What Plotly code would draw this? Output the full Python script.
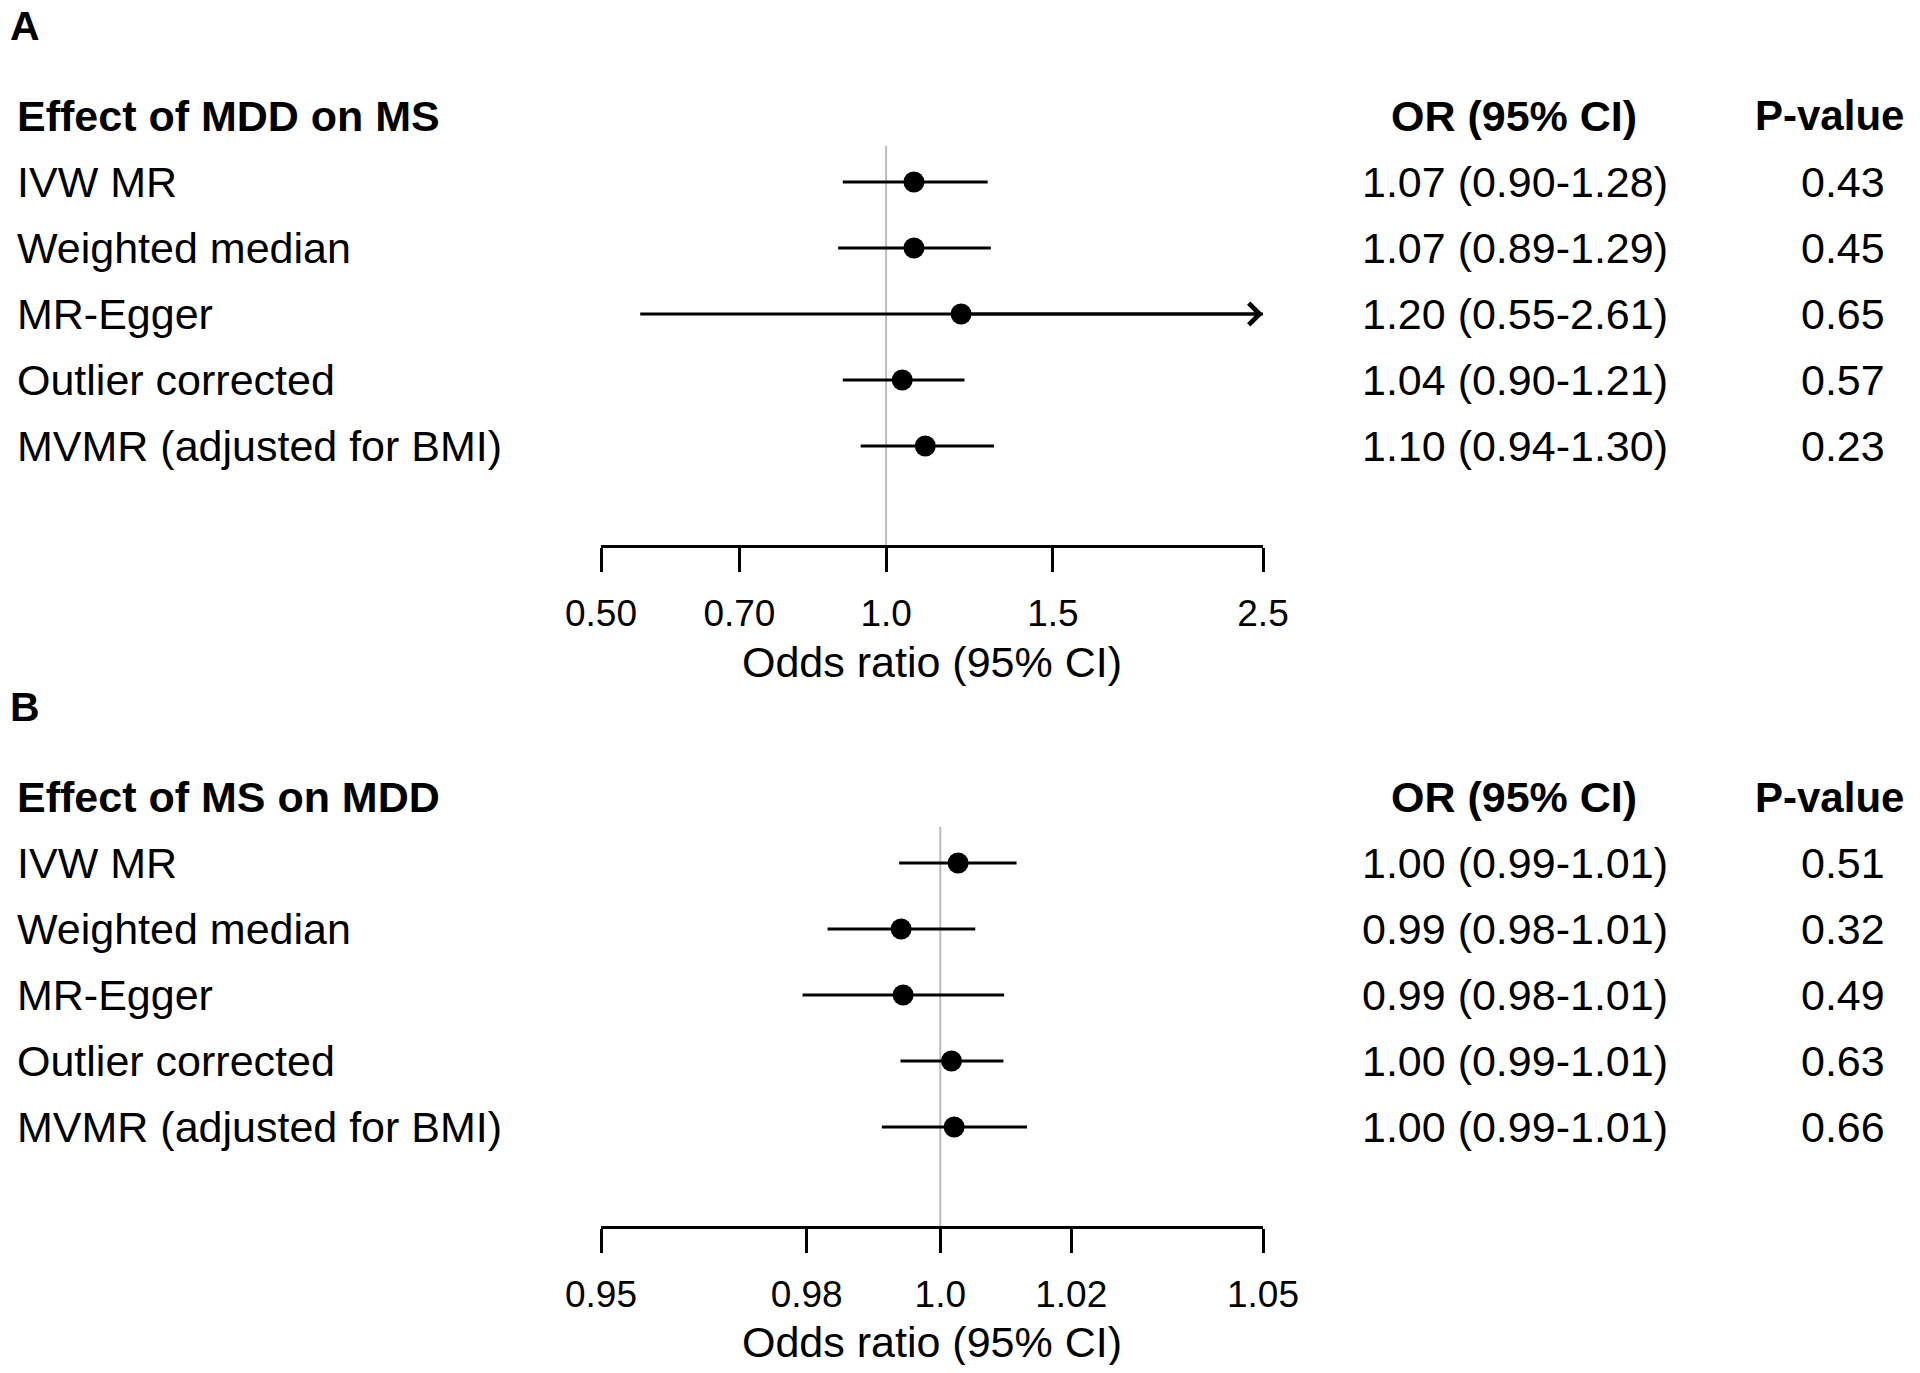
"""Forest plots: MR estimates for MDD -> MS and MS -> MDD"""

import math

import plotly.graph_objects as go

# page body has an 8px margin on every side, so the figure is drawn smaller
# and every position below is given in window pixels minus that offset
OFF = 8
W, H = 1920 - OFF, 1373 - 2 * OFF
FONT = "Liberation Sans, Arial, Helvetica, sans-serif"

METHODS = ["IVW MR", "Weighted median", "MR-Egger", "Outlier corrected", "MVMR (adjusted for BMI)"]

# Panel A: effect of MDD on MS
A_OR = [1.07, 1.07, 1.20, 1.04, 1.10]
A_LO = [0.90, 0.89, 0.55, 0.90, 0.94]
A_HI = [1.28, 1.29, 2.61, 1.21, 1.30]
A_TEXT = ["1.07 (0.90-1.28)", "1.07 (0.89-1.29)", "1.20 (0.55-2.61)", "1.04 (0.90-1.21)", "1.10 (0.94-1.30)"]
A_P = ["0.43", "0.45", "0.65", "0.57", "0.23"]
A_TICKS = [0.50, 0.70, 1.0, 1.5, 2.5]
A_TICKTEXT = ["0.50", "0.70", "1.0", "1.5", "2.5"]

# Panel B: effect of MS on MDD
B_OR = [1.0027, 0.9941, 0.9944, 1.0017, 1.0021]
B_LO = [0.9938, 0.9831, 0.9794, 0.9940, 0.9912]
B_HI = [1.0116, 1.0053, 1.0097, 1.0096, 1.0132]
B_TEXT = ["1.00 (0.99-1.01)", "0.99 (0.98-1.01)", "0.99 (0.98-1.01)", "1.00 (0.99-1.01)", "1.00 (0.99-1.01)"]
B_P = ["0.51", "0.32", "0.49", "0.63", "0.66"]
B_TICKS = [0.95, 0.98, 1.0, 1.02, 1.05]
B_TICKTEXT = ["0.95", "0.98", "1.0", "1.02", "1.05"]

ROWS = [1, 2, 3, 4, 5]


def px(x):
    return (x - OFF) / W


def py(y):
    return 1 - (y - OFF) / H


fig = go.Figure()
annotations = []


def text_ann(x, y, yref, text, size=43, anchor="left"):
    annotations.append(dict(x=x, y=y, xref="paper", yref=yref, text=text, showarrow=False,
                            xanchor=anchor, yanchor="middle",
                            font=dict(size=size, family=FONT, color="black")))


def add_panel(n, letter, title, est, lo, hi, text, pvals, ticks, ticktext,
              axis_px, header_px, letter_px, xtitle_px):
    xa = "x" if n == 1 else f"x{n}"
    ya = "y" if n == 1 else f"y{n}"
    xmin, xmax = ticks[0], ticks[-1]

    # reference line at OR = 1
    fig.add_trace(go.Scatter(x=[1, 1], y=[0.45, 6.5], mode="lines",
                             line=dict(color="#bcbcbc", width=2),
                             xaxis=xa, yaxis=ya, hoverinfo="skip"))
    # CI lines (clipped to the axis)
    xs, ys = [], []
    for r, l, h in zip(ROWS, lo, hi):
        xs += [max(l, xmin), min(h, xmax), None]
        ys += [r, r, None]
    fig.add_trace(go.Scatter(x=xs, y=ys, mode="lines", line=dict(color="black", width=3.2),
                             xaxis=xa, yaxis=ya, hoverinfo="skip"))
    # point estimates
    fig.add_trace(go.Scatter(x=est, y=ROWS, mode="markers",
                             marker=dict(color="black", size=21, symbol="circle"),
                             xaxis=xa, yaxis=ya))
    # arrows for truncated intervals
    for r, e, h in zip(ROWS, est, hi):
        if h > xmax:
            annotations.append(dict(x=math.log10(xmax), y=r, ax=math.log10(e), ay=r,
                                    xref=xa, yref=ya, axref=xa, ayref=ya, text="",
                                    showarrow=True, arrowhead=4, arrowsize=1.4,
                                    arrowwidth=3, arrowcolor="black"))

    # text columns
    text_ann(px(8), py(letter_px), "paper", f"<b>{letter}</b>", size=41)
    text_ann(px(15), 0, ya, f"<b>{title}</b>")
    text_ann(px(1514), 0, ya, "<b>OR (95% CI)</b>", anchor="center")
    text_ann(px(1906), 0, ya, "<b>P-value</b>", size=42, anchor="right")
    for r, m, t, p in zip(ROWS, METHODS, text, pvals):
        text_ann(px(15), r, ya, m)
        text_ann(px(1515), r, ya, t, anchor="center")
        text_ann(px(1843), r, ya, p, anchor="center")
    text_ann(px(932), py(xtitle_px), "paper", "Odds ratio (95% CI)", anchor="center")

    # rows: header at 0, axis line at 6.5, visible range from -1.5
    row_h = (axis_px - header_px) / 6.5
    top_px = header_px - 1.5 * row_h

    xkey = "xaxis" if n == 1 else f"xaxis{n}"
    ykey = "yaxis" if n == 1 else f"yaxis{n}"
    fig.update_layout(**{
        xkey: dict(type="log", range=[math.log10(xmin), math.log10(xmax)],
                   domain=[px(601), px(1263)], anchor=ya, automargin=False,
                   tickvals=ticks, ticktext=ticktext, ticks="outside", ticklen=24,
                   tickwidth=2.5, tickcolor="black", showline=True, linewidth=2.5,
                   linecolor="black", showgrid=False, zeroline=False,
                   ticklabelstandoff=10,
                   tickfont=dict(size=37, family=FONT, color="black")),
        ykey: dict(range=[6.5, -1.5], domain=[py(axis_px), py(top_px)], anchor=xa,
                   visible=False, automargin=False, showgrid=False, zeroline=False),
    })


add_panel(1, "A", "Effect of MDD on MS", A_OR, A_LO, A_HI, A_TEXT, A_P, A_TICKS, A_TICKTEXT,
          axis_px=545, header_px=116, letter_px=26, xtitle_px=662)
add_panel(2, "B", "Effect of MS on MDD", B_OR, B_LO, B_HI, B_TEXT, B_P, B_TICKS, B_TICKTEXT,
          axis_px=1226, header_px=797, letter_px=707, xtitle_px=1342)

fig.update_layout(
    width=W, height=H,
    margin=dict(l=0, r=0, t=0, b=0),
    paper_bgcolor="white", plot_bgcolor="white",
    showlegend=False,
    annotations=annotations,
    font=dict(family=FONT, color="black"),
)

fig.write_html("out.html")
